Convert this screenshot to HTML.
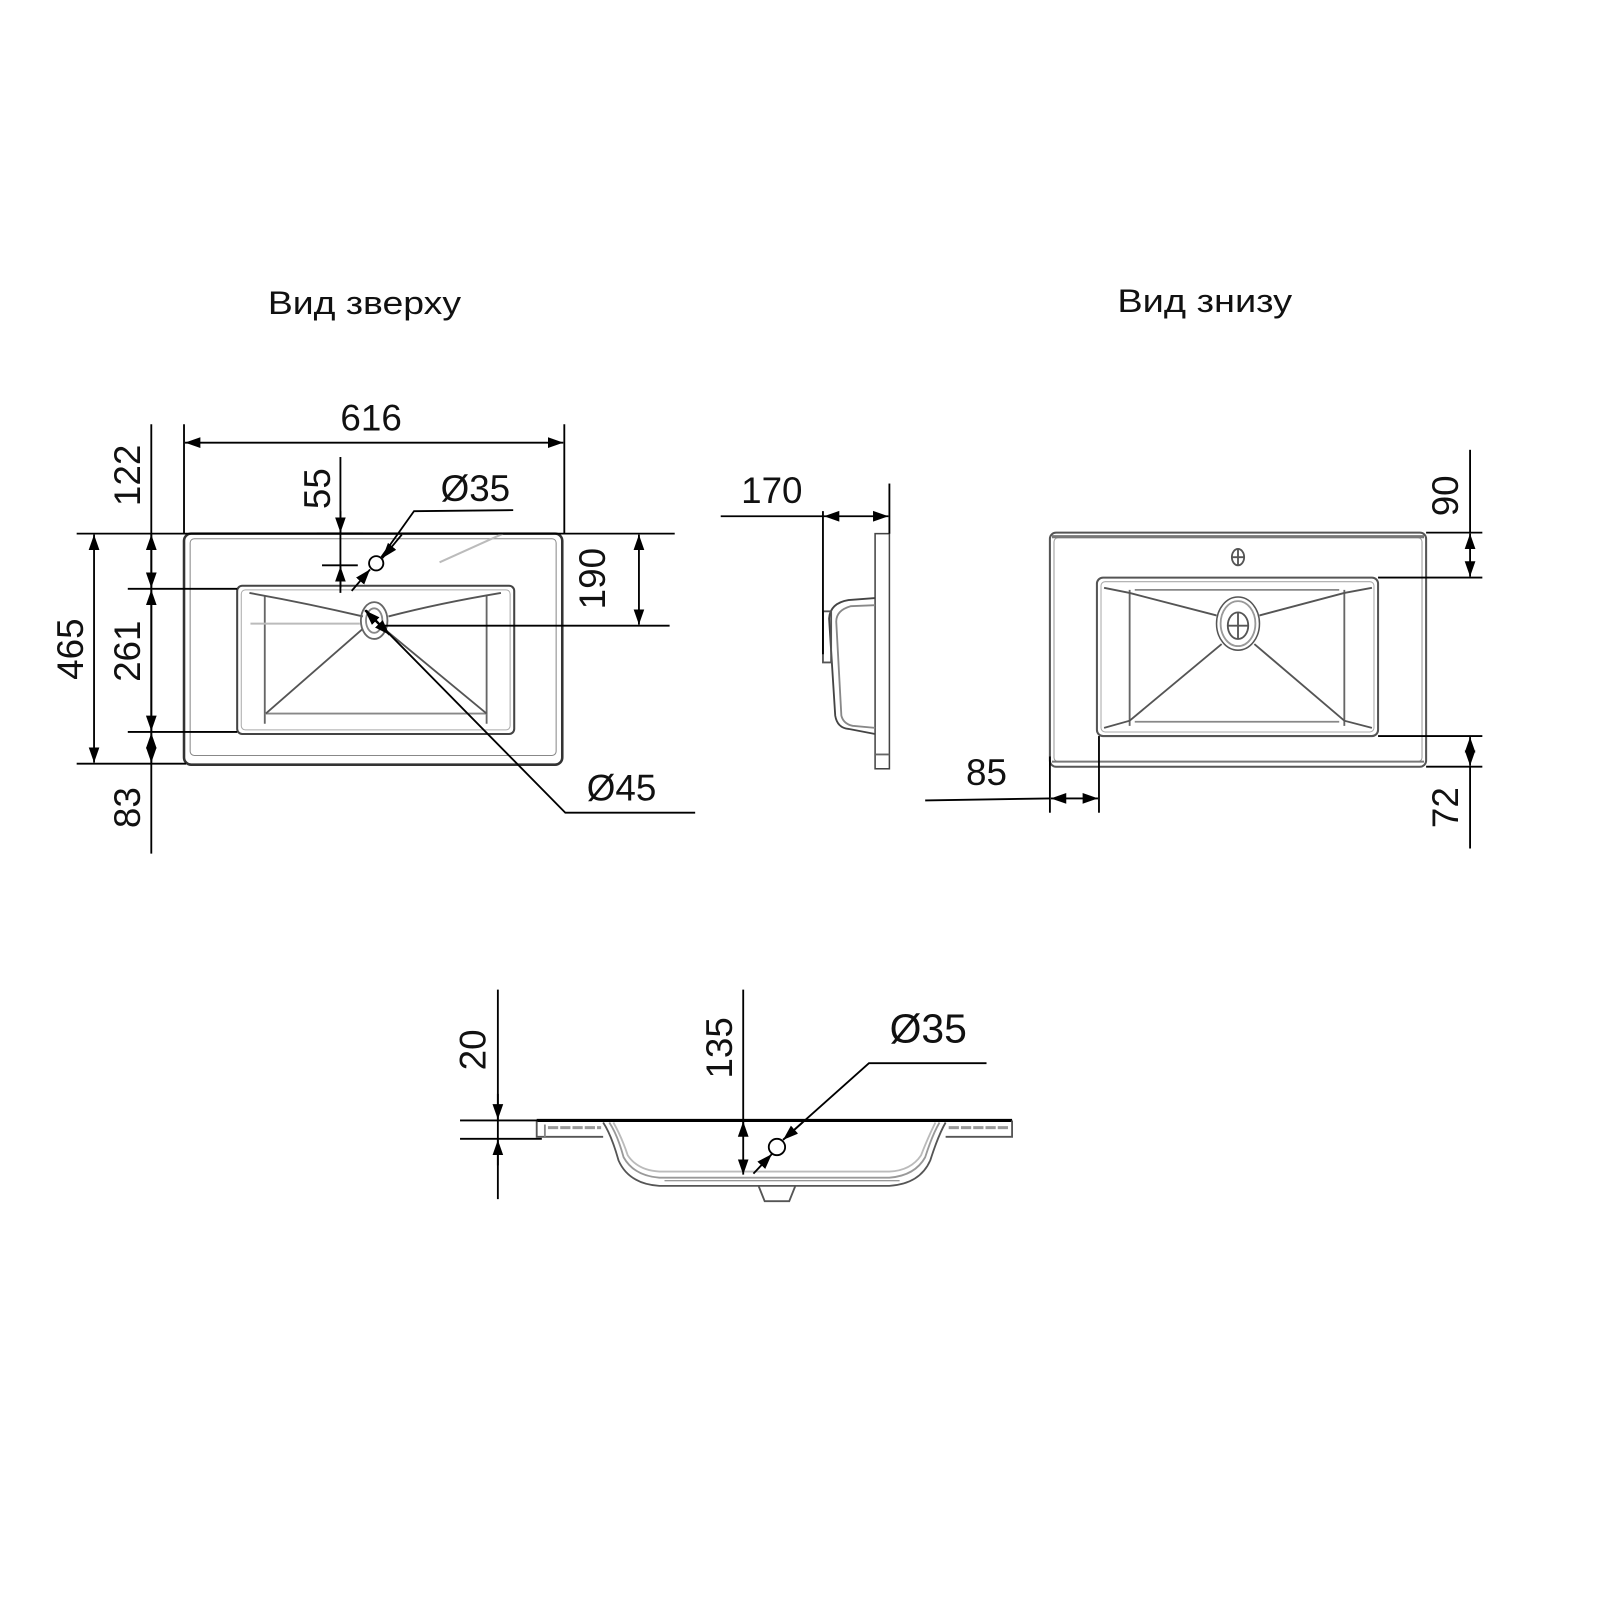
<!DOCTYPE html>
<html><head><meta charset="utf-8"><style>
html,body{margin:0;padding:0;background:#fff;}
svg{display:block;}
text{font-family:"Liberation Sans","DejaVu Sans",sans-serif;fill:#111;}
</style></head><body>
<svg width="1600" height="1600" viewBox="0 0 1600 1600" xmlns="http://www.w3.org/2000/svg">
<defs>
<marker id="a" viewBox="0 0 10 10" refX="10" refY="5" markerWidth="15" markerHeight="15" markerUnits="userSpaceOnUse" orient="auto-start-reverse"><path d="M0,1.5 L10,5 L0,8.5 Z" fill="#000"/></marker>
</defs>
<g transform="scale(1.0223)" fill="none" stroke="#000" stroke-width="1.8">
<!-- titles -->
<text x="262" y="307" font-size="32" textLength="189" lengthAdjust="spacingAndGlyphs" stroke="none">Вид зверху</text>
<text x="1093" y="305" font-size="32" textLength="171" lengthAdjust="spacingAndGlyphs" stroke="none">Вид знизу</text>

<!-- ===== TOP VIEW ===== -->
<rect x="180" y="522" width="370" height="226" rx="7" stroke="#333" stroke-width="2.5"/>
<rect x="186" y="527" width="358" height="212" rx="4" stroke="#888" stroke-width="1"/>
<rect x="232" y="573" width="271" height="145" rx="5" stroke="#444" stroke-width="2"/>
<rect x="236" y="577" width="263" height="137" rx="4" stroke="#aaa" stroke-width="1"/>
<line x1="259" y1="583" x2="259" y2="708" stroke="#666"/>
<line x1="476" y1="583" x2="476" y2="708" stroke="#666"/>
<line x1="259" y1="698" x2="476" y2="698" stroke="#888"/>
<path d="M244,580 Q300,590 355,603 M380,603 Q430,590 490,580" stroke="#555"/>
<path d="M260,698 L355,615 M476,698 L378,617" stroke="#555"/>
<line x1="245" y1="610" x2="352" y2="610" stroke="#bbb" stroke-width="2"/>
<line x1="430" y1="550" x2="492" y2="522" stroke="#bbb" stroke-width="2"/>
<ellipse cx="366" cy="607" rx="13" ry="18" stroke="#666"/>
<ellipse cx="366" cy="607" rx="8" ry="12" stroke="#888"/>
<circle cx="368" cy="551" r="7"/>
<!-- extension lines -->
<line x1="75" y1="522" x2="660" y2="522"/>
<line x1="75" y1="747" x2="182" y2="747"/>
<line x1="125" y1="576" x2="232" y2="576"/>
<line x1="125" y1="716" x2="232" y2="716"/>
<line x1="180" y1="415" x2="180" y2="522"/>
<line x1="552" y1="415" x2="552" y2="522"/>
<line x1="310" y1="522" x2="355" y2="522"/>
<line x1="315" y1="553" x2="350" y2="553"/>
<line x1="375" y1="612" x2="655" y2="612"/>
<!-- 616 -->
<line x1="181" y1="433" x2="551" y2="433" marker-start="url(#a)" marker-end="url(#a)"/>
<text x="363" y="421" font-size="36" text-anchor="middle" stroke="none">616</text>
<!-- left chain -->
<line x1="148" y1="415" x2="148" y2="835"/>
<line x1="148" y1="523" x2="148" y2="575" marker-start="url(#a)" marker-end="url(#a)"/>
<line x1="148" y1="577" x2="148" y2="715" marker-start="url(#a)" marker-end="url(#a)"/>
<line x1="148" y1="717" x2="148" y2="746" marker-start="url(#a)" marker-end="url(#a)"/>
<line x1="92" y1="523" x2="92" y2="746" marker-start="url(#a)" marker-end="url(#a)"/>
<text transform="translate(137,465) rotate(-90)" font-size="36" text-anchor="middle" stroke="none">122</text>
<text transform="translate(137,637) rotate(-90)" font-size="36" text-anchor="middle" stroke="none">261</text>
<text transform="translate(137,790) rotate(-90)" font-size="36" text-anchor="middle" stroke="none">83</text>
<text transform="translate(81,635) rotate(-90)" font-size="36" text-anchor="middle" stroke="none">465</text>
<!-- 55 -->
<line x1="333" y1="447" x2="333" y2="580"/>
<line x1="333" y1="500" x2="333" y2="521" marker-end="url(#a)"/>
<line x1="333" y1="575" x2="333" y2="554" marker-end="url(#a)"/>
<text transform="translate(323,478) rotate(-90)" font-size="36" text-anchor="middle" stroke="none">55</text>
<!-- Ø35 -->
<polyline points="502,499 405,500 373,545" />
<line x1="393" y1="523" x2="374" y2="546" marker-end="url(#a)"/>
<line x1="344" y1="578" x2="362" y2="557" marker-end="url(#a)"/>
<text x="465" y="490" font-size="36" text-anchor="middle" stroke="none">Ø35</text>
<!-- 190 -->
<line x1="625" y1="523" x2="625" y2="611" marker-start="url(#a)" marker-end="url(#a)"/>
<text transform="translate(592,566) rotate(-90)" font-size="36" text-anchor="middle" stroke="none">190</text>
<!-- Ø45 -->
<polyline points="358,597 553,795 680,795"/>
<line x1="380" y1="620" x2="357" y2="597" marker-end="url(#a)"/>
<line x1="358" y1="597" x2="381" y2="621" marker-end="url(#a)"/>
<text x="608" y="783" font-size="36" text-anchor="middle" stroke="none">Ø45</text>

<!-- ===== SIDE VIEW ===== -->
<rect x="856" y="522" width="14" height="230" stroke="#444" stroke-width="1.5"/>
<line x1="856" y1="738" x2="870" y2="738" stroke="#666"/>
<path d="M856,585 L830,587 Q812,590 811,605 L817,700 Q819,712 830,713 L856,718" stroke="#444"/>
<path d="M856,592 L832,593 Q818,597 818,608 L823,700 Q825,708 834,710 L856,712" stroke="#888"/>
<rect x="805" y="598" width="8" height="50" stroke="#555"/>
<line x1="805" y1="500" x2="805" y2="640"/>
<line x1="870" y1="473" x2="870" y2="522"/>
<line x1="705" y1="505" x2="806" y2="505"/>
<line x1="806" y1="505" x2="869" y2="505" marker-start="url(#a)" marker-end="url(#a)"/>
<text x="755" y="492" font-size="36" text-anchor="middle" stroke="none">170</text>

<!-- ===== BOTTOM VIEW ===== -->
<rect x="1027" y="521" width="368" height="229" rx="6" stroke="#555" stroke-width="2"/>
<rect x="1031" y="526" width="360" height="219" rx="4" stroke="#999" stroke-width="1"/>
<line x1="1029" y1="525" x2="1393" y2="525" stroke="#777" stroke-width="3"/>
<line x1="1029" y1="745" x2="1393" y2="745" stroke="#777" stroke-width="2"/>
<rect x="1073" y="565" width="275" height="155" rx="6" stroke="#555" stroke-width="2"/>
<rect x="1077" y="569" width="267" height="147" rx="4" stroke="#aaa" stroke-width="1"/>
<line x1="1105" y1="577" x2="1105" y2="710" stroke="#666"/>
<line x1="1315" y1="577" x2="1315" y2="710" stroke="#666"/>
<line x1="1110" y1="577" x2="1310" y2="577" stroke="#888"/>
<line x1="1110" y1="706" x2="1310" y2="706" stroke="#888"/>
<path d="M1080,575 L1105,580 L1190,602 M1232,602 L1315,580 L1342,575" stroke="#555"/>
<path d="M1080,712 L1105,705 L1195,630 M1227,630 L1315,705 L1342,712" stroke="#555"/>
<ellipse cx="1211" cy="610" rx="21" ry="26" stroke="#555" stroke-width="1.5"/>
<ellipse cx="1211" cy="610" rx="17" ry="22" stroke="#999"/>
<ellipse cx="1211" cy="612" rx="10" ry="13" stroke="#555"/>
<path d="M1201,612 H1221 M1211,599 V625" stroke="#555"/>
<ellipse cx="1211" cy="545" rx="6" ry="8" stroke="#555"/>
<path d="M1205,545 H1217 M1211,537 V553" stroke="#555"/>
<!-- dims -->
<line x1="1395" y1="521" x2="1450" y2="521"/>
<line x1="1348" y1="565" x2="1450" y2="565"/>
<line x1="1348" y1="720" x2="1450" y2="720"/>
<line x1="1395" y1="750" x2="1450" y2="750"/>
<line x1="1438" y1="440" x2="1438" y2="522"/>
<line x1="1438" y1="522" x2="1438" y2="564" marker-start="url(#a)" marker-end="url(#a)"/>
<line x1="1438" y1="721" x2="1438" y2="749" marker-start="url(#a)" marker-end="url(#a)"/>
<line x1="1438" y1="750" x2="1438" y2="830"/>
<text transform="translate(1426,485) rotate(-90)" font-size="36" text-anchor="middle" stroke="none">90</text>
<text transform="translate(1426,790) rotate(-90)" font-size="36" text-anchor="middle" stroke="none">72</text>
<line x1="1027" y1="740" x2="1027" y2="795"/>
<line x1="1075" y1="720" x2="1075" y2="795"/>
<line x1="905" y1="783" x2="1027" y2="781"/>
<line x1="1028" y1="781" x2="1074" y2="781" marker-start="url(#a)" marker-end="url(#a)"/>
<text x="965" y="768" font-size="36" text-anchor="middle" stroke="none">85</text>

<!-- ===== SECTION VIEW ===== -->
<line x1="525" y1="1096" x2="990" y2="1096" stroke-width="3"/>
<path d="M525,1096 V1112 H590" stroke="#555"/>
<path d="M533,1100 V1112" stroke="#888"/>
<line x1="536" y1="1103" x2="588" y2="1103" stroke="#999" stroke-width="3" stroke-dasharray="10,2"/>
<path d="M990,1096 V1112 H925" stroke="#555"/>
<line x1="928" y1="1103" x2="986" y2="1103" stroke="#999" stroke-width="3" stroke-dasharray="10,2"/>
<path d="M590,1098 Q598,1110 605,1135 Q615,1158 645,1160 L870,1160 Q900,1158 910,1135 Q918,1110 925,1098" stroke="#555"/>
<path d="M596,1098 Q604,1110 610,1132 Q620,1150 645,1152 L870,1152 Q895,1150 905,1132 Q912,1110 919,1098" stroke="#999"/>
<path d="M600,1098 Q608,1112 614,1130 Q624,1145 645,1146 L870,1146 Q891,1145 901,1130 Q908,1112 915,1098" stroke="#bbb"/>
<line x1="650" y1="1155" x2="880" y2="1155" stroke="#777" stroke-width="1"/>
<path d="M742,1160 L748,1175 H772 L778,1160" stroke="#555"/>
<!-- dims -->
<line x1="450" y1="1096" x2="530" y2="1096"/>
<line x1="450" y1="1114" x2="530" y2="1114"/>
<line x1="487" y1="968" x2="487" y2="1173"/>
<line x1="487" y1="1070" x2="487" y2="1095" marker-end="url(#a)"/>
<line x1="487" y1="1140" x2="487" y2="1115" marker-end="url(#a)"/>
<text transform="translate(475,1027) rotate(-90)" font-size="36" text-anchor="middle" stroke="none">20</text>
<line x1="727" y1="968" x2="727" y2="1100"/>
<line x1="727" y1="1097" x2="727" y2="1149" marker-start="url(#a)" marker-end="url(#a)"/>
<text transform="translate(716,1025) rotate(-90)" font-size="36" text-anchor="middle" stroke="none">135</text>
<circle cx="760" cy="1122" r="8"/>
<polyline points="965,1040 850,1040 766,1115"/>
<line x1="785" y1="1098" x2="766" y2="1115" marker-end="url(#a)"/>
<line x1="737" y1="1148" x2="755" y2="1129" marker-end="url(#a)"/>
<text x="908" y="1020" font-size="40" text-anchor="middle" stroke="none">Ø35</text>
</g>
</svg>
</body></html>
